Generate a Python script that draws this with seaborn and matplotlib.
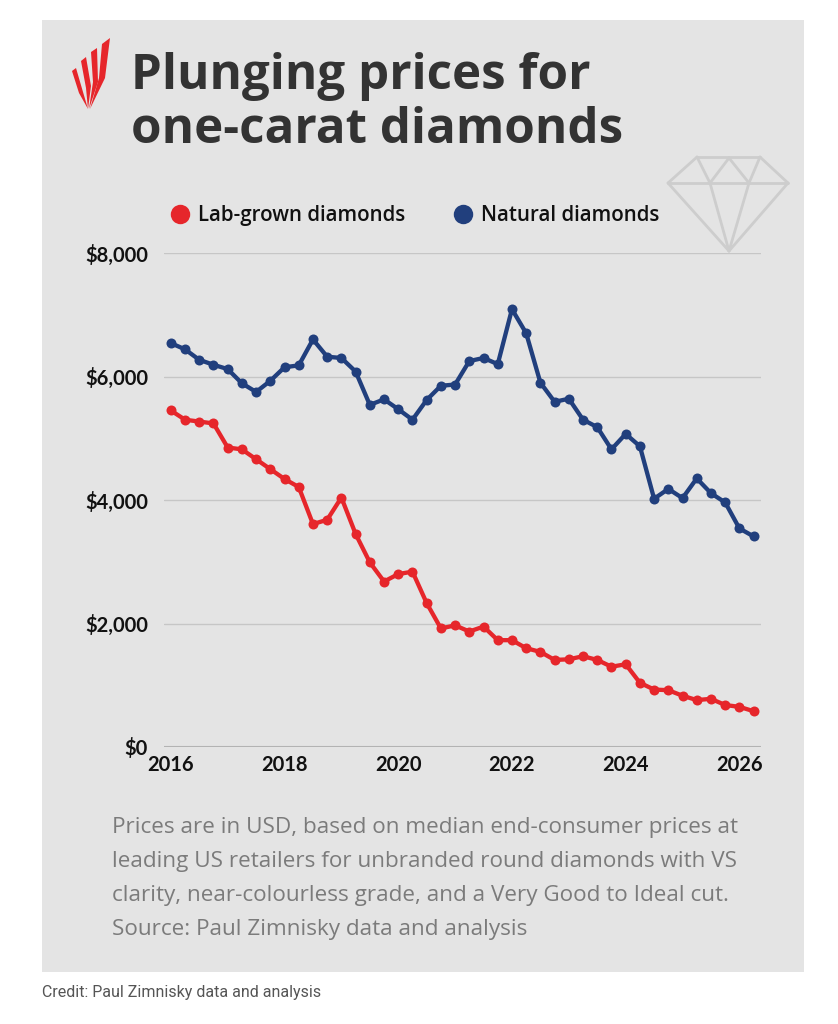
import numpy as np
import pandas as pd

import matplotlib
matplotlib.use("Agg")
import matplotlib.pyplot as plt
from matplotlib.lines import Line2D
from matplotlib.patches import Rectangle, Polygon
import seaborn as sns

sns.set_style("white")
plt.rcParams["font.family"] = ["Lato", "DejaVu Sans"]
OPEN = ["Open Sans", "DejaVu Sans"]

# --- data (quarterly) ---
years = [
    2016.00, 2016.25, 2016.50, 2016.75, 2017.00, 2017.25, 2017.50, 2017.75,
    2018.00, 2018.25, 2018.50, 2018.75, 2019.00, 2019.25, 2019.50, 2019.75,
    2020.00, 2020.25, 2020.50, 2020.75, 2021.00, 2021.25, 2021.50, 2021.75,
    2022.00, 2022.25, 2022.50, 2022.75, 2023.00, 2023.25, 2023.50, 2023.75,
    2024.00, 2024.25, 2024.50, 2024.75, 2025.00, 2025.25, 2025.50, 2025.75,
    2026.00, 2026.25,
]
natural_prices = [
    6540, 6440, 6270, 6190, 6120, 5890, 5750, 5930,
    6150, 6180, 6600, 6320, 6300, 6080, 5540, 5630,
    5470, 5300, 5620, 5850, 5870, 6250, 6300, 6200,
    7090, 6700, 5900, 5590, 5640, 5300, 5180, 4820,
    5070, 4870, 4020, 4180, 4030, 4350, 4110, 3960,
    3540, 3410,
]
lab_prices = [
    5450, 5300, 5270, 5240, 4850, 4820, 4660, 4500,
    4340, 4210, 3610, 3680, 4040, 3450, 2990, 2680,
    2800, 2840, 2330, 1920, 1970, 1870, 1950, 1730,
    1730, 1600, 1540, 1410, 1420, 1470, 1410, 1300,
    1340, 1040, 930, 920, 830, 760, 780, 680,
    650, 580,
]
series_names = ["Lab-grown diamonds", "Natural diamonds"]
y_ticks = [0, 2000, 4000, 6000, 8000]
x_ticks = [2016, 2018, 2020, 2022, 2024, 2026]

title_lines = ["Plunging prices for", "one-carat diamonds"]
note_lines = [
    "Prices are in USD, based on median end-consumer prices at",
    "leading US retailers for unbranded round diamonds with VS",
    "clarity, near-colourless grade, and a Very Good to Ideal cut.",
    "Source: Paul Zimnisky data and analysis",
]
credit = "Credit: Paul Zimnisky data and analysis"

RED = "#e6262b"
BLUE = "#213f7d"
CARD = "#e4e4e4"
palette = {series_names[0]: RED, series_names[1]: BLUE}

df = pd.concat([
    pd.DataFrame({"year": years, "price": lab_prices, "series": series_names[0]}),
    pd.DataFrame({"year": years, "price": natural_prices, "series": series_names[1]}),
])

W, H = 838, 1024


def fx(px):
    return px / W


def fy(py):
    return 1 - py / H


fig = plt.figure(figsize=(W / 100, H / 100), dpi=100)
fig.patch.set_facecolor("white")

# grey card
fig.add_artist(Rectangle((fx(42), fy(972)), fx(804) - fx(42), (972 - 20) / H,
                         transform=fig.transFigure, facecolor=CARD,
                         edgecolor="none", zorder=0))

# logo: four thin slanted red stripes converging at the bottom
stripes = [
    [(72, 71), (76, 68), (83, 92), (88, 109), (79, 93)],
    [(81, 61), (86, 57), (91, 86), (88, 109), (86, 88)],
    [(91, 52), (97, 48), (98, 82), (89, 109), (93, 82)],
    [(102, 44), (110, 38), (105, 78), (90, 109), (99, 78)],
]
for st in stripes:
    pts = [(fx(x), fy(y)) for x, y in st]
    fig.add_artist(Polygon(pts, closed=True, transform=fig.transFigure,
                           facecolor=RED, edgecolor="none", zorder=2))

# title
for txt, base in zip(title_lines, [89, 143]):
    fig.text(fx(131), fy(base), txt, fontsize=35.5, fontweight="bold",
             family=OPEN, color="#333333", va="baseline", ha="left")

# diamond outline icon
dcol = "#cdcdcd"
segs = [
    [(697, 157), (760, 157)],
    [(668, 183), (788, 183)],
    [(668, 183), (697, 157)],
    [(788, 183), (760, 157)],
    [(697, 157), (710, 183)],
    [(710, 183), (729, 158)],
    [(729, 158), (749, 183)],
    [(749, 183), (760, 157)],
    [(668, 183), (729, 251)],
    [(788, 183), (729, 251)],
    [(710, 183), (729, 251)],
    [(749, 183), (729, 251)],
]
for seg in segs:
    xs = [fx(p[0]) for p in seg]
    ys = [fy(p[1]) for p in seg]
    fig.add_artist(Line2D(xs, ys, transform=fig.transFigure, color=dcol,
                          lw=2, solid_capstyle="round", zorder=1))

# legend
for name, cx, tx in [(series_names[0], 180, 198), (series_names[1], 463, 481)]:
    fig.add_artist(Line2D([fx(cx)], [fy(214)], transform=fig.transFigure,
                          marker="o", ms=14, color=palette[name], mew=0,
                          linestyle="none", zorder=3))
    fig.text(fx(tx), fy(221), name, fontsize=14.8, fontweight="semibold",
             family=OPEN, color="#111111", va="baseline", ha="left")

# chart
ax = fig.add_axes([fx(164), fy(747), (761 - 164) / W, (747 - 253) / H])
ax.set_facecolor("none")
sns.lineplot(data=df, x="year", y="price", hue="series", palette=palette,
             marker="o", markersize=7.2, markeredgewidth=0, linewidth=3.1,
             legend=False, sort=False, errorbar=None, ax=ax, zorder=3)

ax.set_xlim(2015.88, 2026.38)
ax.set_ylim(0, 8000)
ax.set_yticks(y_ticks)
ax.set_yticklabels([f"${v:,.0f}" for v in y_ticks])
ax.set_xticks(x_ticks)
ax.set_xticklabels([str(v) for v in x_ticks])
ax.tick_params(axis="y", length=0, pad=11.5, labelsize=14.5)
ax.tick_params(axis="x", length=0, pad=6, labelsize=14.5)
for lab in ax.get_xticklabels() + ax.get_yticklabels():
    lab.set_fontweight("bold")
    lab.set_color("#111111")
ax.grid(axis="y", color="#c6c6c6", lw=1)
ax.grid(axis="x", visible=False)
ax.axhline(0, color="#b3b3b3", lw=1.5, zorder=1)
ax.set_xlabel("")
ax.set_ylabel("")
sns.despine(ax=ax, left=True, bottom=True)

# footnote
for txt, base in zip(note_lines, [833, 867.5, 901, 934.5]):
    fig.text(fx(112), fy(base), txt, fontsize=16.2, color="#7b7b7b",
             family=OPEN, va="baseline", ha="left")

fig.text(fx(42), fy(996.5), credit, fontsize=11.5, color="#555555",
         family=["Roboto", "DejaVu Sans"], va="baseline", ha="left")

fig.savefig("out.png", dpi=100, facecolor="white")
